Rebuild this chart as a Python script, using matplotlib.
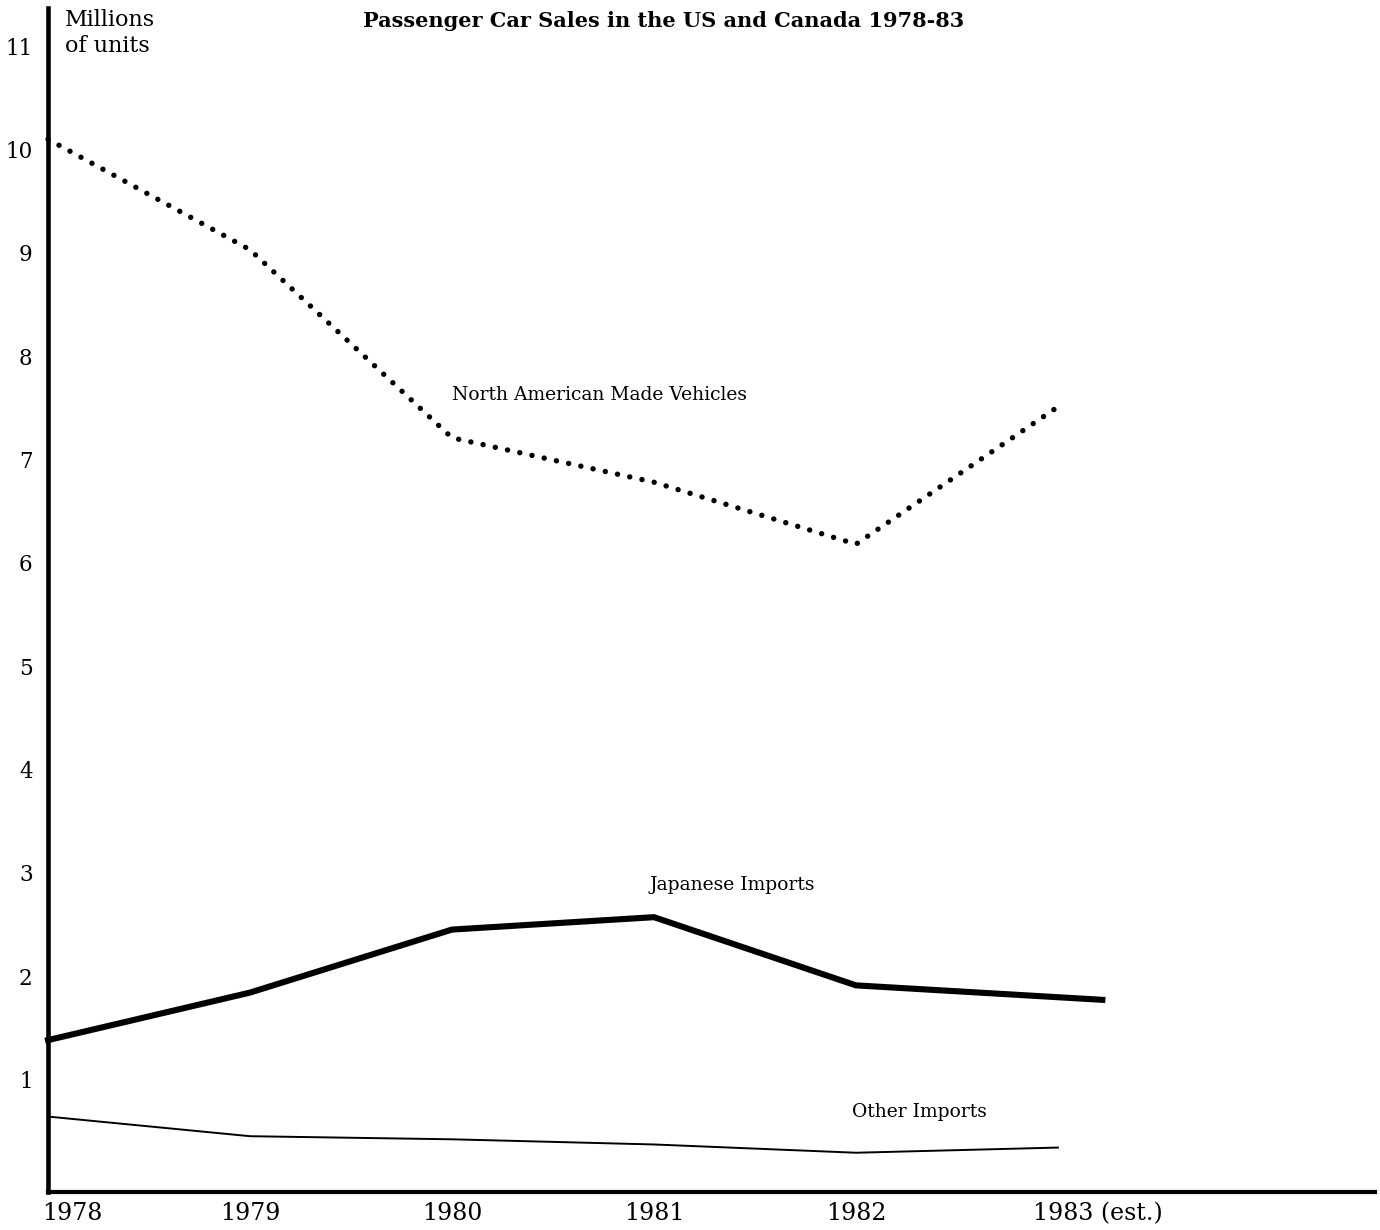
import numpy as np
import matplotlib.pyplot as plt
from matplotlib.transforms import ScaledTranslation

# values (millions of units)
YEARS = [1978, 1979, 1980, 1981, 1982, 1983]
YEAR_LABELS = ["1978", "1979", "1980", "1981", "1982", "1983 (est.)"]

north_american = [10.1, 9.03, 7.21, 6.78, 6.18, 7.51]

japanese_years = [1978, 1979, 1980, 1981, 1982, 1983.22]
japanese = [1.38, 1.84, 2.45, 2.57, 1.91, 1.77]

other = [0.64, 0.45, 0.42, 0.37, 0.29, 0.34]

Y_TICKS = [1, 2, 3, 4, 5, 6, 7, 8, 9, 10, 11]


def plotSales():
    plt.rcParams['font.family'] = ['DejaVu Serif']
    fig = plt.figure(figsize=(13.8, 12.3), dpi=100)
    ax = fig.add_axes([0.0348, 0.0309, 0.9616, 0.9626])

    ax.plot(YEARS, north_american, color="black", linewidth=3.9,
            linestyle=(0, (0.01, 2.3)), dash_capstyle="round", clip_on=False)
    ax.plot(japanese_years, japanese, color="black", linewidth=4.4,
            solid_joinstyle="miter", clip_on=False)
    ax.plot(YEARS, other, color="black", linewidth=1.4, clip_on=False)

    ax.text(1980.0, 7.62, "North American Made Vehicles", fontsize=13.5,
            va="center", ha="left")
    ax.text(1980.98, 2.88, "Japanese Imports", fontsize=13.5,
            va="center", ha="left")
    ax.text(1981.98, 0.68, "Other Imports", fontsize=13.5,
            va="center", ha="left")

    ax.set_xlim(1978, 1984.57)
    ax.set_ylim(-0.09, 11.37)

    ax.spines["top"].set_visible(False)
    ax.spines["right"].set_visible(False)
    ax.spines["left"].set_linewidth(3.3)
    ax.spines["bottom"].set_linewidth(3.0)

    ax.set_yticks(Y_TICKS)
    ax.set_yticklabels([str(t) for t in Y_TICKS], fontsize=15.5)
    ax.set_xticks(YEARS)
    ax.set_xticklabels(YEAR_LABELS, fontsize=17)
    ax.tick_params(axis="y", length=0, pad=11)
    ax.tick_params(axis="x", length=0, pad=7)

    labels = ax.get_xticklabels()
    labels[0].set_horizontalalignment("left")
    labels[0].set_transform(labels[0].get_transform() +
                            ScaledTranslation(-0.06, 0, fig.dpi_scale_trans))
    labels[-1].set_horizontalalignment("left")
    labels[-1].set_transform(labels[-1].get_transform() +
                             ScaledTranslation(-0.25, 0, fig.dpi_scale_trans))

    fig.text(0.047, 0.993, "Millions\nof units", fontsize=16, va="top",
             ha="left", linespacing=1.25)
    fig.text(0.481, 0.983, "Passenger Car Sales in the US and Canada 1978-83",
             fontsize=15, fontweight="bold", va="center", ha="center")

    fig.savefig("out.png", dpi=100)


def main():
    plotSales()

if __name__ == "__main__":
    main()
